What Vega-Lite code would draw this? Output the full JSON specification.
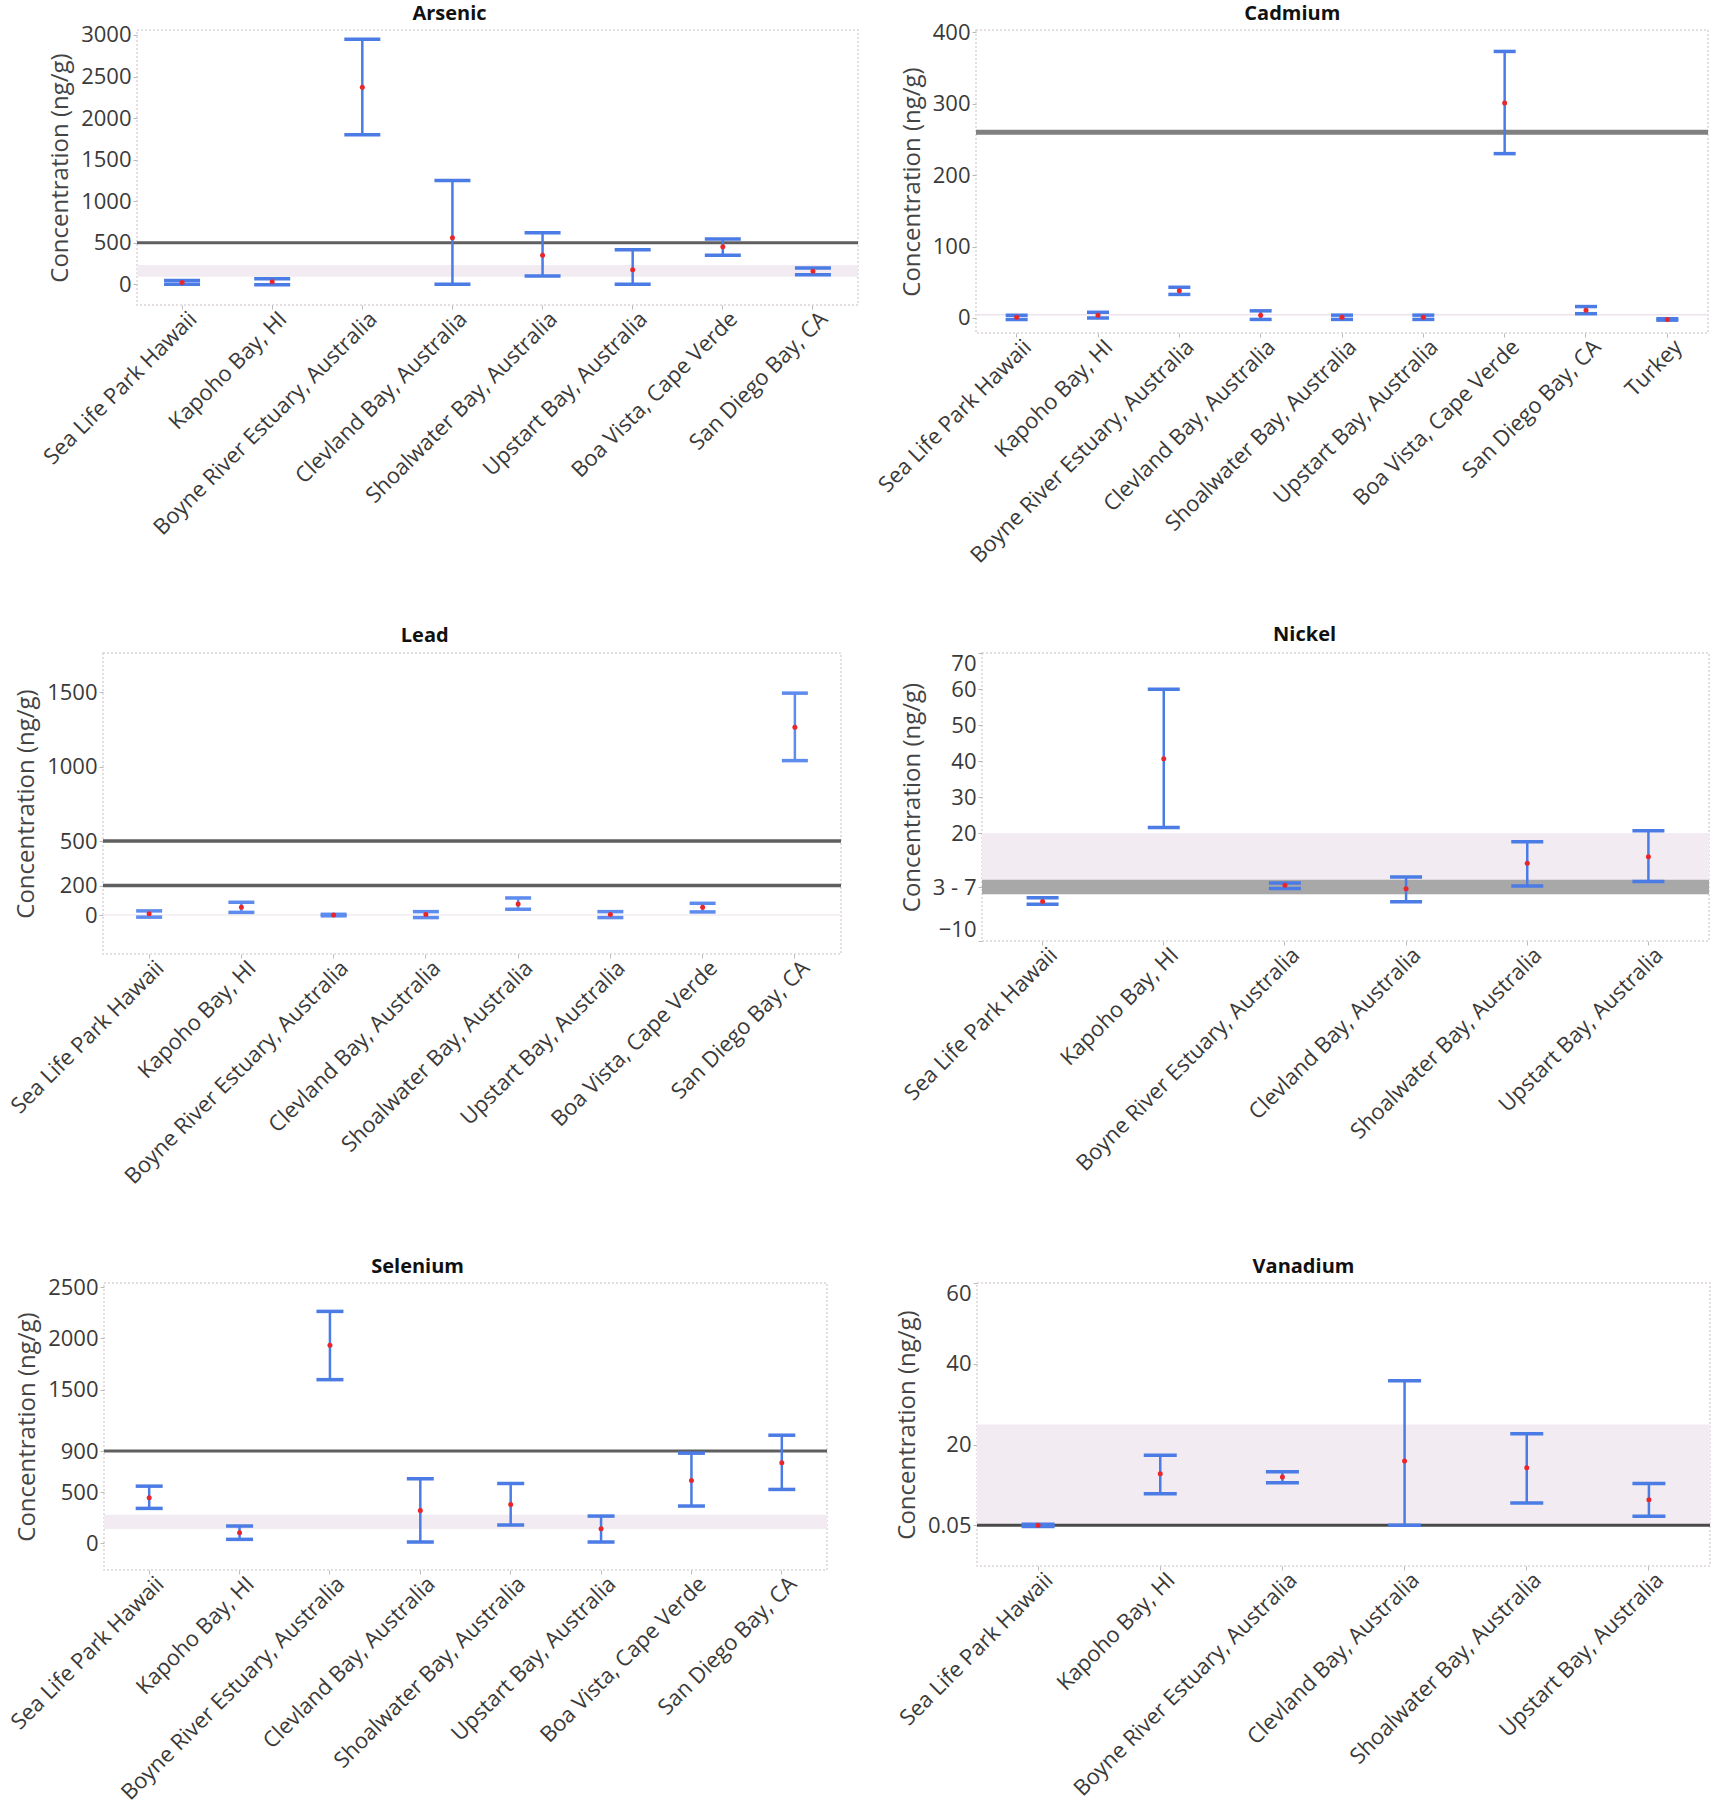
{
  "$schema": "https://vega.github.io/schema/vega-lite/v6.json",
  "padding": {"left": 0, "top": 3, "right": 0, "bottom": 0},
  "background": "white",
  "datasets": {
    "err": [
      {"el": "Arsenic", "site": "Sea Life Park Hawaii", "mean": 20, "lo": 0, "hi": 45},
      {"el": "Arsenic", "site": "Kapoho Bay, HI", "mean": 30, "lo": -5, "hi": 65},
      {"el": "Arsenic", "site": "Boyne River Estuary, Australia", "mean": 2370, "lo": 1800, "hi": 2950},
      {"el": "Arsenic", "site": "Clevland Bay, Australia", "mean": 560, "lo": 0, "hi": 1250},
      {"el": "Arsenic", "site": "Shoalwater Bay, Australia", "mean": 350, "lo": 100, "hi": 620},
      {"el": "Arsenic", "site": "Upstart Bay, Australia", "mean": 175, "lo": 0, "hi": 415},
      {"el": "Arsenic", "site": "Boa Vista, Cape Verde", "mean": 450, "lo": 350, "hi": 545},
      {"el": "Arsenic", "site": "San Diego Bay, CA", "mean": 155, "lo": 115, "hi": 195},
      {"el": "Cadmium", "site": "Sea Life Park Hawaii", "mean": 1, "lo": -2, "hi": 4},
      {"el": "Cadmium", "site": "Kapoho Bay, HI", "mean": 4, "lo": 0, "hi": 8},
      {"el": "Cadmium", "site": "Boyne River Estuary, Australia", "mean": 38, "lo": 33, "hi": 43},
      {"el": "Cadmium", "site": "Clevland Bay, Australia", "mean": 4, "lo": -2, "hi": 10},
      {"el": "Cadmium", "site": "Shoalwater Bay, Australia", "mean": 1, "lo": -2, "hi": 4},
      {"el": "Cadmium", "site": "Upstart Bay, Australia", "mean": 1, "lo": -2, "hi": 4},
      {"el": "Cadmium", "site": "Boa Vista, Cape Verde", "mean": 301, "lo": 230, "hi": 373},
      {"el": "Cadmium", "site": "San Diego Bay, CA", "mean": 11, "lo": 6, "hi": 16},
      {"el": "Cadmium", "site": "Turkey", "mean": -2, "lo": -3, "hi": -1},
      {"el": "Lead", "site": "Sea Life Park Hawaii", "mean": 10, "lo": -12, "hi": 30},
      {"el": "Lead", "site": "Kapoho Bay, HI", "mean": 54, "lo": 20, "hi": 88},
      {"el": "Lead", "site": "Boyne River Estuary, Australia", "mean": 2, "lo": -3, "hi": 7},
      {"el": "Lead", "site": "Clevland Bay, Australia", "mean": 5, "lo": -15, "hi": 25},
      {"el": "Lead", "site": "Shoalwater Bay, Australia", "mean": 77, "lo": 41, "hi": 117},
      {"el": "Lead", "site": "Upstart Bay, Australia", "mean": 5, "lo": -15, "hi": 25},
      {"el": "Lead", "site": "Boa Vista, Cape Verde", "mean": 54, "lo": 23, "hi": 81},
      {"el": "Lead", "site": "San Diego Bay, CA", "mean": 1266, "lo": 1041, "hi": 1495},
      {"el": "Nickel", "site": "Sea Life Park Hawaii", "mean": 1, "lo": 0.2, "hi": 2},
      {"el": "Nickel", "site": "Kapoho Bay, HI", "mean": 40.6, "lo": 21.5, "hi": 59.9},
      {"el": "Nickel", "site": "Boyne River Estuary, Australia", "mean": 5.5, "lo": 4.6, "hi": 6.1},
      {"el": "Nickel", "site": "Clevland Bay, Australia", "mean": 4.5, "lo": 0.9, "hi": 7.8},
      {"el": "Nickel", "site": "Shoalwater Bay, Australia", "mean": 11.6, "lo": 5.3, "hi": 17.6},
      {"el": "Nickel", "site": "Upstart Bay, Australia", "mean": 13.4, "lo": 6.5, "hi": 20.6},
      {"el": "Selenium", "site": "Sea Life Park Hawaii", "mean": 445, "lo": 341, "hi": 558},
      {"el": "Selenium", "site": "Kapoho Bay, HI", "mean": 104, "lo": 39, "hi": 169},
      {"el": "Selenium", "site": "Boyne River Estuary, Australia", "mean": 1932, "lo": 1597, "hi": 2263},
      {"el": "Selenium", "site": "Clevland Bay, Australia", "mean": 321, "lo": 13, "hi": 630},
      {"el": "Selenium", "site": "Shoalwater Bay, Australia", "mean": 380, "lo": 179, "hi": 584},
      {"el": "Selenium", "site": "Upstart Bay, Australia", "mean": 143, "lo": 13, "hi": 266},
      {"el": "Selenium", "site": "Boa Vista, Cape Verde", "mean": 614, "lo": 364, "hi": 880},
      {"el": "Selenium", "site": "San Diego Bay, CA", "mean": 786, "lo": 526, "hi": 1055},
      {"el": "Vanadium", "site": "Sea Life Park Hawaii", "mean": 0.05, "lo": -0.2, "hi": 0.3},
      {"el": "Vanadium", "site": "Kapoho Bay, HI", "mean": 12.8, "lo": 7.9, "hi": 17.4},
      {"el": "Vanadium", "site": "Boyne River Estuary, Australia", "mean": 12.0, "lo": 10.6, "hi": 13.3},
      {"el": "Vanadium", "site": "Clevland Bay, Australia", "mean": 16.0, "lo": 0.05, "hi": 35.8},
      {"el": "Vanadium", "site": "Shoalwater Bay, Australia", "mean": 14.3, "lo": 5.6, "hi": 22.7},
      {"el": "Vanadium", "site": "Upstart Bay, Australia", "mean": 6.4, "lo": 2.3, "hi": 10.4}
    ],
    "lines": [
      {"el": "Arsenic", "v": 500},
      {"el": "Cadmium", "v": 260},
      {"el": "Lead", "v": 500},
      {"el": "Lead", "v": 200},
      {"el": "Selenium", "v": 900},
      {"el": "Vanadium", "v": 0.05}
    ],
    "bands": [
      {"el": "Arsenic", "kind": "range", "lo": 90, "hi": 230},
      {"el": "Cadmium", "kind": "range", "lo": 3.5, "hi": 5.5},
      {"el": "Lead", "kind": "range", "lo": -3, "hi": 8},
      {"el": "Nickel", "kind": "range", "lo": 3, "hi": 20},
      {"el": "Nickel", "kind": "core", "lo": 3, "hi": 7},
      {"el": "Selenium", "kind": "range", "lo": 140, "hi": 280},
      {"el": "Vanadium", "kind": "range", "lo": 0.05, "hi": 25}
    ]
  },
  "spacing": 56,
  "vconcat": [
    {
      "spacing": 12,
      "hconcat": [
        {
          "spacing": 0,
          "hconcat": [
            {"width": 38, "height": 1, "data": {"values": []}, "mark": "point", "view": {"stroke": null}},
            {
              "width": 721, "height": 275,
              "title": {"text": "Arsenic", "offset": 0},
              "layer": [
                {"data": {"name": "bands"}, "transform": [{"filter": "datum.el == 'Arsenic'"}],
                 "mark": {"type": "rect", "color": "#f2ebf1"},
                 "encoding": {"y": {"field": "lo", "type": "quantitative", "title": "Concentration (ng/g)",
                   "scale": {"domain": [-250, 3060], "nice": false, "zero": false},
                   "axis": {"values": [0, 500, 1000, 1500, 2000, 2500, 3000]}},
                   "y2": {"field": "hi"}}},
                {"data": {"name": "lines"}, "transform": [{"filter": "datum.el == 'Arsenic'"}],
                 "mark": {"type": "rule", "color": "#5f5f5f", "strokeWidth": 3},
                 "encoding": {"y": {"field": "v", "type": "quantitative", "title": "Concentration (ng/g)"}}},
                {"data": {"name": "err"}, "transform": [{"filter": "datum.el == 'Arsenic'"}],
                 "encoding": {"x": {"field": "site", "type": "nominal", "sort": null, "title": null, "scale": {"paddingInner": 0, "paddingOuter": 0}}},
                 "layer": [
                   {"mark": {"type": "rule", "color": "#4b7be5", "strokeWidth": 2.5},
                    "encoding": {"y": {"field": "lo", "type": "quantitative", "title": "Concentration (ng/g)"}, "y2": {"field": "hi"}}},
                   {"mark": {"type": "tick", "color": "#4b7be5", "size": 36, "thickness": 3.5, "opacity": 1},
                    "encoding": {"y": {"field": "lo", "type": "quantitative", "title": "Concentration (ng/g)"}}},
                   {"mark": {"type": "tick", "color": "#4b7be5", "size": 36, "thickness": 3.5, "opacity": 1},
                    "encoding": {"y": {"field": "hi", "type": "quantitative", "title": "Concentration (ng/g)"}}},
                   {"mark": {"type": "point", "filled": true, "color": "#e8262c", "size": 25, "opacity": 1},
                    "encoding": {"y": {"field": "mean", "type": "quantitative", "title": "Concentration (ng/g)"}}}
                 ]}
              ]
            }
          ]
        },
        {
          "width": 732, "height": 303,
          "title": {"text": "Cadmium", "offset": -3},
          "layer": [
            {"data": {"name": "bands"}, "transform": [{"filter": "datum.el == 'Cadmium'"}],
             "mark": {"type": "rect", "color": "#eee3ec"},
             "encoding": {"y": {"field": "lo", "type": "quantitative", "title": "Concentration (ng/g)",
               "scale": {"domain": [-21, 403], "nice": false, "zero": false},
               "axis": {"values": [0, 50, 100, 150, 200, 260, 300, 350, 400]}},
               "y2": {"field": "hi"}}},
            {"data": {"name": "lines"}, "transform": [{"filter": "datum.el == 'Cadmium'"}],
             "mark": {"type": "rule", "color": "#808080", "strokeWidth": 5},
             "encoding": {"y": {"field": "v", "type": "quantitative", "title": "Concentration (ng/g)"}}},
            {"data": {"name": "err"}, "transform": [{"filter": "datum.el == 'Cadmium'"}],
             "encoding": {"x": {"field": "site", "type": "nominal", "sort": null, "title": null, "scale": {"paddingInner": 0, "paddingOuter": 0}}},
             "layer": [
               {"mark": {"type": "rule", "color": "#4b7be5", "strokeWidth": 2.5},
                "encoding": {"y": {"field": "lo", "type": "quantitative", "title": "Concentration (ng/g)"}, "y2": {"field": "hi"}}},
               {"mark": {"type": "tick", "color": "#4b7be5", "size": 22, "thickness": 3.5, "opacity": 1},
                "encoding": {"y": {"field": "lo", "type": "quantitative", "title": "Concentration (ng/g)"}}},
               {"mark": {"type": "tick", "color": "#4b7be5", "size": 22, "thickness": 3.5, "opacity": 1},
                "encoding": {"y": {"field": "hi", "type": "quantitative", "title": "Concentration (ng/g)"}}},
               {"mark": {"type": "point", "filled": true, "color": "#e8262c", "size": 25, "opacity": 1},
                "encoding": {"y": {"field": "mean", "type": "quantitative", "title": "Concentration (ng/g)"}}}
             ]}
          ]
        }
      ]
    },
    {
      "spacing": 67,
      "vconcat": [
        {
          "spacing": 55,
          "hconcat": [
            {
              "spacing": 0,
              "hconcat": [
                {"width": 5, "height": 1, "data": {"values": []}, "mark": "point", "view": {"stroke": null}},
                {
                  "width": 738, "height": 301,
                  "title": {"text": "Lead", "offset": 7},
                  "layer": [
                    {"data": {"name": "bands"}, "transform": [{"filter": "datum.el == 'Lead'"}],
                     "mark": {"type": "rect", "color": "#f2ebf1"},
                     "encoding": {"y": {"field": "lo", "type": "quantitative", "title": "Concentration (ng/g)",
                       "scale": {"domain": [-260, 1765], "nice": false, "zero": false},
                       "axis": {"values": [0, 200, 500, 1000, 1500]}},
                       "y2": {"field": "hi"}}},
                    {"data": {"name": "lines"}, "transform": [{"filter": "datum.el == 'Lead'"}],
                     "mark": {"type": "rule", "color": "#5f5f5f", "strokeWidth": 3.5},
                     "encoding": {"y": {"field": "v", "type": "quantitative", "title": "Concentration (ng/g)"}}},
                    {"data": {"name": "err"}, "transform": [{"filter": "datum.el == 'Lead'"}],
                     "encoding": {"x": {"field": "site", "type": "nominal", "sort": null, "title": null, "scale": {"paddingInner": 0, "paddingOuter": 0}}},
                     "layer": [
                       {"mark": {"type": "rule", "color": "#5d8bee", "strokeWidth": 2.5},
                        "encoding": {"y": {"field": "lo", "type": "quantitative", "title": "Concentration (ng/g)"}, "y2": {"field": "hi"}}},
                       {"mark": {"type": "tick", "color": "#5d8bee", "size": 26, "thickness": 3.5, "opacity": 1},
                        "encoding": {"y": {"field": "lo", "type": "quantitative", "title": "Concentration (ng/g)"}}},
                       {"mark": {"type": "tick", "color": "#5d8bee", "size": 26, "thickness": 3.5, "opacity": 1},
                        "encoding": {"y": {"field": "hi", "type": "quantitative", "title": "Concentration (ng/g)"}}},
                       {"mark": {"type": "point", "filled": true, "color": "#e8262c", "size": 25, "opacity": 1},
                        "encoding": {"y": {"field": "mean", "type": "quantitative", "title": "Concentration (ng/g)"}}}
                     ]}
                  ]
                }
              ]
            },
            {
              "width": 727, "height": 288,
              "title": {"text": "Nickel", "offset": 7},
              "layer": [
                {"data": {"name": "bands"}, "transform": [{"filter": "datum.el == 'Nickel'"}],
                 "mark": {"type": "rect"},
                 "encoding": {"y": {"field": "lo", "type": "quantitative", "title": "Concentration (ng/g)",
                   "scale": {"domain": [-10, 70], "nice": false, "zero": false},
                   "axis": {"values": [-10, 5, 20, 30, 40, 50, 60, 70], "labelExpr": "datum.value == 5 ? '3 - 7' : datum.label", "labelFlush": true}},
                   "y2": {"field": "hi"},
                   "color": {"field": "kind", "type": "nominal", "legend": null, "scale": {"domain": ["range", "core"], "range": ["#f2ebf1", "#a8a8a8"]}}}},
                {"data": {"name": "err"}, "transform": [{"filter": "datum.el == 'Nickel'"}],
                 "encoding": {"x": {"field": "site", "type": "nominal", "sort": null, "title": null, "scale": {"paddingInner": 0, "paddingOuter": 0}}},
                 "layer": [
                   {"mark": {"type": "rule", "color": "#4b7be5", "strokeWidth": 2.5},
                    "encoding": {"y": {"field": "lo", "type": "quantitative", "title": "Concentration (ng/g)"}, "y2": {"field": "hi"}}},
                   {"mark": {"type": "tick", "color": "#4b7be5", "size": 32, "thickness": 3.5, "opacity": 1},
                    "encoding": {"y": {"field": "lo", "type": "quantitative", "title": "Concentration (ng/g)"}}},
                   {"mark": {"type": "tick", "color": "#4b7be5", "size": 32, "thickness": 3.5, "opacity": 1},
                    "encoding": {"y": {"field": "hi", "type": "quantitative", "title": "Concentration (ng/g)"}}},
                   {"mark": {"type": "point", "filled": true, "color": "#e8262c", "size": 25, "opacity": 1},
                    "encoding": {"y": {"field": "mean", "type": "quantitative", "title": "Concentration (ng/g)"}}}
                 ]}
              ]
            }
          ]
        },
        {
          "spacing": 64,
          "hconcat": [
            {
              "spacing": 0,
              "hconcat": [
                {"width": 5, "height": 1, "data": {"values": []}, "mark": "point", "view": {"stroke": null}},
                {
                  "width": 723, "height": 287,
                  "title": {"text": "Selenium", "offset": -1},
                  "layer": [
                    {"data": {"name": "bands"}, "transform": [{"filter": "datum.el == 'Selenium'"}],
                     "mark": {"type": "rect", "color": "#f2ebf1"},
                     "encoding": {"y": {"field": "lo", "type": "quantitative", "title": "Concentration (ng/g)",
                       "scale": {"domain": [-260, 2540], "nice": false, "zero": false},
                       "axis": {"values": [0, 500, 900, 1500, 2000, 2500]}},
                       "y2": {"field": "hi"}}},
                    {"data": {"name": "lines"}, "transform": [{"filter": "datum.el == 'Selenium'"}],
                     "mark": {"type": "rule", "color": "#5f5f5f", "strokeWidth": 3},
                     "encoding": {"y": {"field": "v", "type": "quantitative", "title": "Concentration (ng/g)"}}},
                    {"data": {"name": "err"}, "transform": [{"filter": "datum.el == 'Selenium'"}],
                     "encoding": {"x": {"field": "site", "type": "nominal", "sort": null, "title": null, "scale": {"paddingInner": 0, "paddingOuter": 0}}},
                     "layer": [
                       {"mark": {"type": "rule", "color": "#4b7be5", "strokeWidth": 2.5},
                        "encoding": {"y": {"field": "lo", "type": "quantitative", "title": "Concentration (ng/g)"}, "y2": {"field": "hi"}}},
                       {"mark": {"type": "tick", "color": "#4b7be5", "size": 27, "thickness": 3.5, "opacity": 1},
                        "encoding": {"y": {"field": "lo", "type": "quantitative", "title": "Concentration (ng/g)"}}},
                       {"mark": {"type": "tick", "color": "#4b7be5", "size": 27, "thickness": 3.5, "opacity": 1},
                        "encoding": {"y": {"field": "hi", "type": "quantitative", "title": "Concentration (ng/g)"}}},
                       {"mark": {"type": "point", "filled": true, "color": "#e8262c", "size": 25, "opacity": 1},
                        "encoding": {"y": {"field": "mean", "type": "quantitative", "title": "Concentration (ng/g)"}}}
                     ]}
                  ]
                }
              ]
            },
            {
              "width": 733, "height": 283,
              "title": {"text": "Vanadium", "offset": 5},
              "layer": [
                {"data": {"name": "bands"}, "transform": [{"filter": "datum.el == 'Vanadium'"}],
                 "mark": {"type": "rect", "color": "#f2ebf1"},
                 "encoding": {"y": {"field": "lo", "type": "quantitative", "title": "Concentration (ng/g)",
                   "scale": {"domain": [-10, 60], "nice": false, "zero": false},
                   "axis": {"values": [0.05, 20, 40, 60], "labelFlush": true}},
                   "y2": {"field": "hi"}}},
                {"data": {"name": "lines"}, "transform": [{"filter": "datum.el == 'Vanadium'"}],
                 "mark": {"type": "rule", "color": "#4a4a4a", "strokeWidth": 3},
                 "encoding": {"y": {"field": "v", "type": "quantitative", "title": "Concentration (ng/g)"}}},
                {"data": {"name": "err"}, "transform": [{"filter": "datum.el == 'Vanadium'"}],
                 "encoding": {"x": {"field": "site", "type": "nominal", "sort": null, "title": null, "scale": {"paddingInner": 0, "paddingOuter": 0}}},
                 "layer": [
                   {"mark": {"type": "rule", "color": "#4b7be5", "strokeWidth": 2.5},
                    "encoding": {"y": {"field": "lo", "type": "quantitative", "title": "Concentration (ng/g)"}, "y2": {"field": "hi"}}},
                   {"mark": {"type": "tick", "color": "#4b7be5", "size": 33, "thickness": 3.5, "opacity": 1},
                    "encoding": {"y": {"field": "lo", "type": "quantitative", "title": "Concentration (ng/g)"}}},
                   {"mark": {"type": "tick", "color": "#4b7be5", "size": 33, "thickness": 3.5, "opacity": 1},
                    "encoding": {"y": {"field": "hi", "type": "quantitative", "title": "Concentration (ng/g)"}}},
                   {"mark": {"type": "point", "filled": true, "color": "#e8262c", "size": 25, "opacity": 1},
                    "encoding": {"y": {"field": "mean", "type": "quantitative", "title": "Concentration (ng/g)"}}}
                 ]}
              ]
            }
          ]
        }
      ]
    }
  ],
  "config": {
    "font": "Open Sans",
    "view": {"stroke": "#dcd4db", "strokeWidth": 1.5, "strokeDash": [2, 2]},
    "axis": {
      "labelFont": "Open Sans", "titleFont": "Open Sans",
      "labelFontSize": 22, "titleFontSize": 24, "titleFontWeight": "normal",
      "labelColor": "#3a3a3a", "titleColor": "#444444",
      "grid": false, "domain": false, "tickColor": "#bbbbbb", "tickSize": 4,
      "labelOverlap": false, "labelLimit": 500
    },
    "axisY": {"format": "~r", "titlePadding": 8, "labelPadding": 2},
    "axisX": {"labelAngle": -45, "labelAlign": "right", "labelBaseline": "top", "labelPadding": -1, "labelOffset": 4},
    "title": {"font": "Open Sans", "fontSize": 20, "fontWeight": "bold", "color": "#111111", "frame": "bounds", "anchor": "middle"}
  }
}
